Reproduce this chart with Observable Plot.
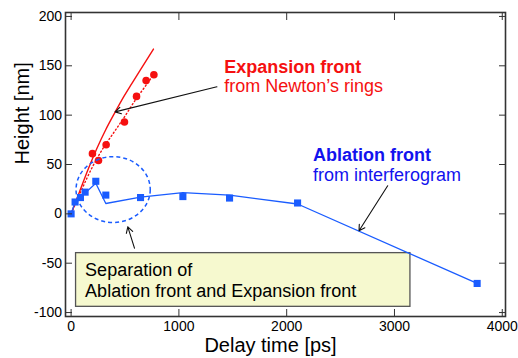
<!DOCTYPE html>
<html><head><meta charset="utf-8">
<script src="https://cdn.jsdelivr.net/npm/d3@7"></script>
<script src="https://cdn.jsdelivr.net/npm/@observablehq/plot@0.6"></script>
<style>body{margin:0;background:#fff}</style>
</head><body><div id="chart"></div>
<script>
// Ablation front (interferogram): measured squares
const ablationX = [0, 37, 87, 130, 229, 322, 644, 1037, 1470, 2101, 3767];
const ablationY = [0, 12, 16.5, 22, 33, 19, 16.5, 17.5, 16, 11, -70.5];
// Ablation front: connecting/fit line
const ablationLineX = [0, 37, 87, 130, 229, 322, 644, 1037, 1470, 2101, 3767];
const ablationLineY = [0, 12, 16, 21, 31, 10.5, 17, 21.5, 19, 10, -70.5];
// Expansion front (Newton's rings): measured circles
const expansionX = [198, 254, 325, 495, 607, 696, 768];
const expansionY = [61, 54, 70, 93, 119, 135, 141];
// Expansion front: dotted fit
const expansionFitX = [0, 100, 200, 300, 400, 500, 600, 700, 770];
const expansionFitY = [0, 25, 48, 67, 83, 99, 116, 131, 142];
// Expansion front: solid model curve
const modelX = [0, 80, 161, 238, 320, 408, 490, 563, 672, 764];
const modelY = [0, 23, 46, 66, 85, 103, 119, 132, 151, 167];
// Ticks
const xTicks = [0, 1000, 2000, 3000, 4000];
const yTicks = [-100, -50, 0, 50, 100, 150, 200];
// Annotations (data coordinates)
const arrowX1 = [1353, 2937, 588];
const arrowY1 = [128.7, 28.4, -34.8];
const arrowX2 = [408, 2671, 526];
const arrowY2 = [103.3, -17.2, -13.2];
const circleX = [390];
const circleY = [24.6];
const boxX = [46, 3148];
const boxY = [-39.8, -94.2];

const zip = (xs, ys) => xs.map((x, i) => ({x, y: ys[i]}));
const ablation = zip(ablationX, ablationY);
const ablationLine = zip(ablationLineX, ablationLineY);
const expansion = zip(expansionX, expansionY);
const expansionFit = zip(expansionFitX, expansionFitY);
const model = zip(modelX, modelY);
const arrows = arrowX1.map((x1, i) => ({x1, y1: arrowY1[i], x2: arrowX2[i], y2: arrowY2[i]}));
const circle = zip(circleX, circleY);
const box = [{x1: boxX[0], x2: boxX[1], y1: boxY[0], y2: boxY[1]}];

const RED = "#f51010";
const BLUE = "#1a5cff";
const BLUE_TEXT = "#1212ee";
const fmt = d => String(d);

const ellipseSymbol = {
  draw(ctx, size) {
    const r = Math.sqrt(size / Math.PI);
    const rx = r * 1.06, ry = r * 0.94, k = 0.5523;
    ctx.moveTo(rx, 0);
    ctx.bezierCurveTo(rx, k * ry, k * rx, ry, 0, ry);
    ctx.bezierCurveTo(-k * rx, ry, -rx, k * ry, -rx, 0);
    ctx.bezierCurveTo(-rx, -k * ry, -k * rx, -ry, 0, -ry);
    ctx.bezierCurveTo(k * rx, -ry, rx, -k * ry, rx, 0);
    ctx.closePath();
  }
};

const chart = Plot.plot({
  width: 518,
  height: 358,
  marginLeft: 65,
  marginRight: 13,
  marginTop: 12,
  marginBottom: 42,
  style: {fontFamily: "'Liberation Sans', Arial, Helvetica, sans-serif", fontSize: "14px", background: "#fff", color: "#000", overflow: "visible"},
  x: {domain: [-52, 4030]},
  y: {domain: [-104, 204]},
  marks: [
    Plot.rect(box, {x1: "x1", x2: "x2", y1: "y1", y2: "y2", fill: "#f6f9cf", stroke: "#555", strokeWidth: 1.3}),
    Plot.line(model, {x: "x", y: "y", stroke: RED, strokeWidth: 1.4, curve: "monotone-x"}),
    Plot.line(expansionFit, {x: "x", y: "y", stroke: RED, strokeWidth: 1.4, strokeDasharray: "1.2,2.6", curve: "monotone-x"}),
    Plot.dot(expansion, {x: "x", y: "y", r: 3.8, fill: RED, stroke: "none"}),
    Plot.line(ablationLine, {x: "x", y: "y", stroke: BLUE, strokeWidth: 1.3}),
    Plot.dot(ablation, {x: "x", y: "y", symbol: "square", r: 4, fill: BLUE, stroke: "none"}),
    Plot.dot(circle, {x: "x", y: "y", symbol: ellipseSymbol, r: 35, fill: "none", stroke: BLUE, strokeWidth: 1.5, strokeDasharray: "4,3"}),
    Plot.arrow(arrows, {x1: "x1", y1: "y1", x2: "x2", y2: "y2", stroke: "#111", strokeWidth: 1.1, headLength: 9}),
    Plot.frame({stroke: "#333", strokeWidth: 1.6}),
    Plot.axisX(xTicks, {anchor: "bottom", tickSize: -7, tickPadding: 12, fontSize: 14, tickFormat: fmt, label: null, stroke: "#333"}),
    Plot.axisX(xTicks, {anchor: "top", tickSize: -7, tickFormat: () => "", label: null, stroke: "#333"}),
    Plot.axisY(yTicks, {anchor: "left", tickSize: -7, tickPadding: 10.5, fontSize: 14, tickFormat: fmt, label: null, stroke: "#333"}),
    Plot.axisY(yTicks, {anchor: "right", tickSize: -7, tickFormat: () => "", label: null, stroke: "#333"}),
    Plot.text(["Delay time [ps]"], {frameAnchor: "bottom", dy: 29, dx: -15, fontSize: 20, fill: "#000", lineAnchor: "middle"}),
    Plot.text(["Height [nm]"], {frameAnchor: "left", dx: -43, rotate: -90, fontSize: 20, fill: "#000", lineAnchor: "middle"}),
    Plot.text(["Expansion front"], {x: 1421, y: 149, text: d => d, textAnchor: "start", fontSize: 18, fontWeight: "bold", fill: RED, lineAnchor: "middle"}),
    Plot.text(["from Newton\u2019s rings"], {x: 1421, y: 128.8, text: d => d, textAnchor: "start", fontSize: 18, fill: RED, lineAnchor: "middle"}),
    Plot.text(["Ablation front"], {x: 2244, y: 59.6, text: d => d, textAnchor: "start", fontSize: 18, fontWeight: "bold", fill: BLUE_TEXT, lineAnchor: "middle"}),
    Plot.text(["from interferogram"], {x: 2244, y: 39.3, text: d => d, textAnchor: "start", fontSize: 18, fill: BLUE_TEXT, lineAnchor: "middle"}),
    Plot.text(["Separation of"], {x: 130, y: -56.9, text: d => d, textAnchor: "start", fontSize: 18, fill: "#000", lineAnchor: "middle"}),
    Plot.text(["Ablation front and Expansion front"], {x: 130, y: -78.2, text: d => d, textAnchor: "start", fontSize: 18, fill: "#000", lineAnchor: "middle"})
  ]
});
document.getElementById("chart").appendChild(chart);
</script>
</body></html>
